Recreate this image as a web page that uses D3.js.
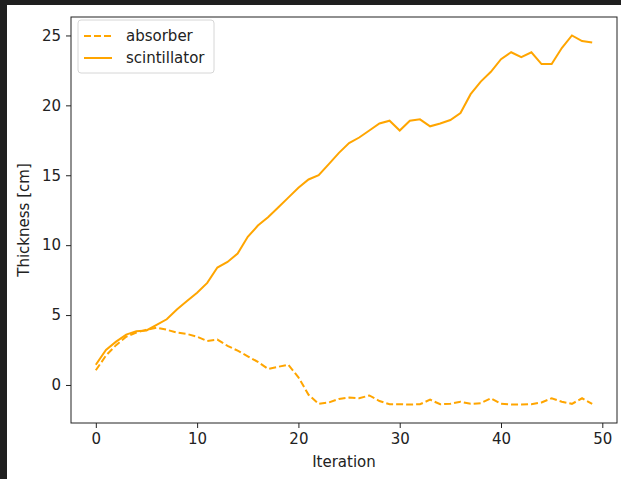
<!DOCTYPE html>
<html>
<head>
<meta charset="utf-8">
<script src="https://cdn.jsdelivr.net/npm/d3@7"></script>
<style>
  html, body { margin: 0; padding: 0; background: #1f1f1f; }
  svg { display: block; }
  text { font-family: "DejaVu Sans", sans-serif; fill: #222; }
</style>
</head>
<body>
<svg id="chart" width="621" height="479"></svg>
<script>
const iterations = d3.range(0, 50);

const absorber = [
  1.05, 2.1, 2.85, 3.45, 3.75, 3.95, 4.1, 3.95, 3.75, 3.65,
  3.45, 3.15, 3.25, 2.8, 2.45, 2.05, 1.65, 1.15, 1.3, 1.45,
  0.55, -0.7, -1.35, -1.25, -1.0, -0.9, -0.95, -0.75, -1.15, -1.38,
  -1.38, -1.4, -1.38, -1.05, -1.38, -1.35, -1.2, -1.35, -1.3, -0.95,
  -1.35, -1.4, -1.4, -1.38, -1.25, -0.95, -1.2, -1.35, -0.95, -1.35
];

const scintillator = [
  1.45, 2.5, 3.1, 3.6, 3.85, 3.9, 4.3, 4.7, 5.4, 6.0,
  6.6, 7.3, 8.4, 8.8, 9.4, 10.6, 11.4, 12.0, 12.7, 13.4,
  14.1, 14.7, 15.0, 15.8, 16.6, 17.3, 17.7, 18.2, 18.7, 18.9,
  18.2, 18.9, 19.0, 18.5, 18.7, 18.95, 19.45, 20.8, 21.7, 22.4,
  23.3, 23.8, 23.45, 23.8, 22.95, 22.95, 24.1, 25.0, 24.6, 24.5
];

const xTicks = [0, 10, 20, 30, 40, 50];
const yTicks = [0, 5, 10, 15, 20, 25];

const series = [
  { name: "absorber", values: absorber, dash: "7,3" },
  { name: "scintillator", values: scintillator, dash: null }
];

const svg = d3.select("#chart");
// white figure area inside the dark frame
svg.append("rect")
  .attr("x", 7).attr("y", 5)
  .attr("width", 614).attr("height", 474)
  .attr("fill", "#fff");

const margin = { top: 17, right: 4, bottom: 56, left: 71 };
const width = 621 - margin.left - margin.right;
const height = 479 - margin.top - margin.bottom;

// matplotlib-style 5% padding around the data
const xPad = 49 * 0.05;
const allVals = absorber.concat(scintillator);
const yMin = d3.min(allVals), yMax = d3.max(allVals);
const yPad = (yMax - yMin) * 0.05;

const x = d3.scaleLinear().domain([-xPad, 49 + xPad]).range([0, width]);
const y = d3.scaleLinear().domain([yMin - yPad, yMax + yPad]).range([height, 0]);

const g = svg.append("g")
  .attr("transform", "translate(" + margin.left + "," + margin.top + ")");

const color = "#ffa500";
const fontSize = "15px";

const line = d3.line()
  .x((d, i) => x(iterations[i]))
  .y(d => y(d));

series.forEach(s => {
  g.append("path")
    .datum(s.values)
    .attr("fill", "none")
    .attr("stroke", color)
    .attr("stroke-width", 2)
    .attr("stroke-dasharray", s.dash)
    .attr("d", line);
});

// axes
const xAxis = g.append("g")
  .attr("transform", "translate(0," + height + ")")
  .call(d3.axisBottom(x).tickValues(xTicks).tickSize(5).tickPadding(5).tickSizeOuter(0));
const yAxis = g.append("g")
  .call(d3.axisLeft(y).tickValues(yTicks).tickSize(5).tickPadding(5).tickSizeOuter(0));

[xAxis, yAxis].forEach(a => {
  a.select(".domain").remove();
  a.selectAll("line").attr("stroke", "#222").attr("stroke-width", 1);
  a.selectAll("text").style("font-size", fontSize).style("font-family", "DejaVu Sans, sans-serif").attr("fill", "#222");
});

// frame
g.append("rect")
  .attr("x", 0).attr("y", 0)
  .attr("width", width).attr("height", height)
  .attr("fill", "none")
  .attr("stroke", "#222")
  .attr("stroke-width", 1);

// axis labels
g.append("text")
  .attr("x", width / 2)
  .attr("y", height + 44)
  .attr("text-anchor", "middle")
  .style("font-size", fontSize)
  .text("Iteration");

g.append("text")
  .attr("transform", "translate(" + (-42) + "," + (height / 2) + ") rotate(-90)")
  .attr("text-anchor", "middle")
  .style("font-size", fontSize)
  .text("Thickness [cm]");

// legend
const legend = g.append("g").attr("transform", "translate(7,3)");
legend.append("rect")
  .attr("width", 136).attr("height", 53)
  .attr("rx", 3)
  .attr("fill", "#fff")
  .attr("fill-opacity", 0.8)
  .attr("stroke", "#d6d6d6");

series.forEach((s, i) => {
  const ly = 16 + i * 22;
  legend.append("line")
    .attr("x1", 6).attr("x2", 34)
    .attr("y1", ly).attr("y2", ly)
    .attr("stroke", color)
    .attr("stroke-width", 2)
    .attr("stroke-dasharray", s.dash);
  legend.append("text")
    .attr("x", 48).attr("y", ly + 5)
    .style("font-size", fontSize)
    .text(s.name);
});
</script>
</body>
</html>
